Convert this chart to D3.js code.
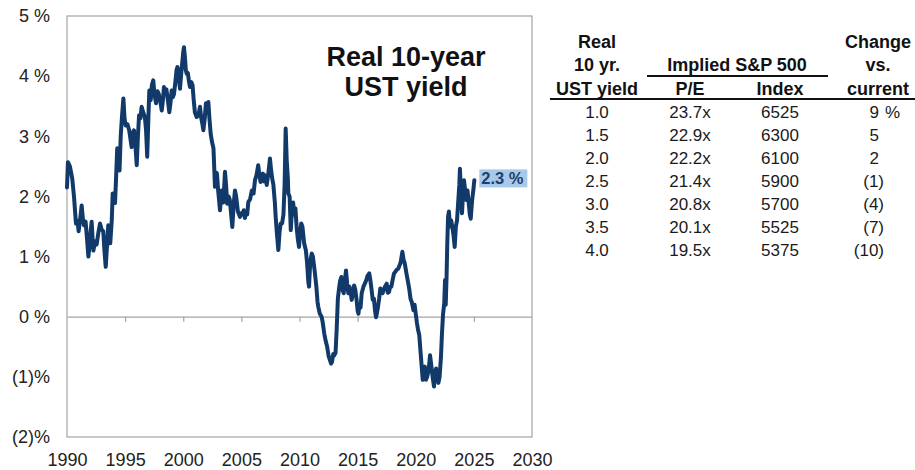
<!DOCTYPE html>
<html>
<head>
<meta charset="utf-8">
<script src="https://cdn.jsdelivr.net/npm/d3@7"></script>
<style>
  body { margin: 0; background: #fff; }
  svg { display: block; font-family: "Liberation Sans", Arial, sans-serif; }
</style>
</head>
<body>
<svg id="chart" width="915" height="470"></svg>
<script>
// real 10-year UST yield (decimal year, %)
const obsDates = [
  1990.0, 1990.08, 1990.25, 1990.45, 1990.6, 1990.77, 1990.9, 1991.0, 1991.12, 1991.26,
  1991.38, 1991.46, 1991.6, 1991.72, 1991.84, 1991.95, 1992.05, 1992.12, 1992.2, 1992.27,
  1992.4, 1992.55, 1992.7, 1992.84, 1992.98, 1993.12, 1993.22, 1993.33, 1993.45, 1993.55,
  1993.65, 1993.72, 1993.85, 1993.93, 1994.05, 1994.13, 1994.22, 1994.32, 1994.42, 1994.52,
  1994.62, 1994.72, 1994.85, 1994.95, 1995.05, 1995.2, 1995.35, 1995.5, 1995.56, 1995.66,
  1995.76, 1995.9, 1996.0, 1996.1, 1996.2, 1996.32, 1996.42, 1996.55, 1996.7, 1996.8,
  1996.9, 1997.0, 1997.08, 1997.2, 1997.3, 1997.42, 1997.52, 1997.66, 1997.78, 1997.9,
  1998.05, 1998.15, 1998.25, 1998.34, 1998.45, 1998.55, 1998.68, 1998.8, 1998.9, 1999.0,
  1999.1, 1999.2, 1999.32, 1999.42, 1999.5, 1999.6, 1999.72, 1999.85, 2000.0, 2000.06,
  2000.15, 2000.22, 2000.3, 2000.4, 2000.5, 2000.58, 2000.7, 2000.8, 2000.9, 2001.0,
  2001.15, 2001.3, 2001.44, 2001.55, 2001.65, 2001.73, 2001.85, 2001.95, 2002.05, 2002.16,
  2002.25, 2002.36, 2002.48, 2002.6, 2002.73, 2002.82, 2002.9, 2003.0, 2003.1, 2003.16,
  2003.3, 2003.45, 2003.59, 2003.68, 2003.78, 2003.9, 2004.0, 2004.1, 2004.22, 2004.35,
  2004.45, 2004.55, 2004.7, 2004.88, 2005.0, 2005.1, 2005.2, 2005.3, 2005.4, 2005.5,
  2005.6, 2005.75, 2005.9, 2006.05, 2006.17, 2006.3, 2006.45, 2006.55, 2006.65, 2006.75,
  2006.85, 2006.95, 2007.05, 2007.18, 2007.3, 2007.46, 2007.55, 2007.65, 2007.75, 2007.88,
  2007.95, 2008.05, 2008.18, 2008.28, 2008.38, 2008.5, 2008.62, 2008.72, 2008.81, 2008.9,
  2009.0, 2009.04, 2009.15, 2009.25, 2009.35, 2009.45, 2009.55, 2009.65, 2009.75, 2009.85,
  2009.96, 2010.05, 2010.15, 2010.25, 2010.4, 2010.55, 2010.65, 2010.75, 2010.82, 2010.92,
  2011.05, 2011.15, 2011.3, 2011.45, 2011.55, 2011.62, 2011.75, 2011.9, 2012.0, 2012.13,
  2012.25, 2012.38, 2012.5, 2012.62, 2012.72, 2012.8, 2012.9, 2013.0, 2013.1, 2013.2,
  2013.3, 2013.42, 2013.5, 2013.6, 2013.7, 2013.8, 2013.9, 2014.0, 2014.1, 2014.2,
  2014.3, 2014.4, 2014.49, 2014.6, 2014.7, 2014.8, 2014.9, 2015.0, 2015.07, 2015.15,
  2015.25, 2015.35, 2015.5, 2015.62, 2015.75, 2015.85, 2016.0, 2016.1, 2016.2, 2016.3,
  2016.4, 2016.5, 2016.58, 2016.65, 2016.75, 2016.85, 2016.95, 2017.05, 2017.15, 2017.25,
  2017.35, 2017.5, 2017.6, 2017.7, 2017.8, 2017.9, 2018.0, 2018.13, 2018.25, 2018.35,
  2018.5, 2018.6, 2018.7, 2018.85, 2018.95, 2019.05, 2019.2, 2019.36, 2019.45, 2019.55,
  2019.65, 2019.8, 2019.9, 2020.0, 2020.1, 2020.2, 2020.3, 2020.38, 2020.48, 2020.6,
  2020.68, 2020.78, 2020.88, 2020.98, 2021.1, 2021.23, 2021.33, 2021.45, 2021.57, 2021.65,
  2021.75, 2021.85, 2021.95, 2022.05, 2022.17, 2022.25, 2022.35, 2022.45, 2022.52, 2022.58,
  2022.65, 2022.71, 2022.78, 2022.85, 2022.95, 2023.05, 2023.15, 2023.25, 2023.35, 2023.45,
  2023.55, 2023.65, 2023.75, 2023.8, 2023.9, 2023.98, 2024.08, 2024.15, 2024.25, 2024.35,
  2024.45, 2024.55, 2024.65, 2024.73, 2024.85, 2024.95, 2025.04
];
const realYield = [
  2.15, 2.57, 2.5, 2.3, 2.0, 1.55, 1.6, 1.42, 1.6, 1.85,
  1.6, 1.52, 1.58, 1.3, 1.0, 1.2, 1.45, 1.58, 1.3, 1.1,
  1.25, 1.2, 1.4, 1.55, 1.45, 1.42, 1.1, 0.83, 1.2, 1.52,
  1.3, 1.22, 1.6, 2.05, 1.95, 1.89, 2.3, 2.8, 2.6, 2.43,
  3.0, 3.3, 3.63, 3.3, 3.18, 3.2, 3.1, 2.9, 2.82, 3.05,
  3.1, 2.8, 2.52, 3.0, 3.35, 3.3, 3.49, 3.4, 3.32, 3.1,
  2.66, 3.3, 3.76, 3.6, 3.85, 3.93, 3.7, 3.55, 3.75, 3.7,
  3.55, 3.43, 3.6, 3.82, 3.75, 3.78, 3.6, 3.4, 3.55, 3.76,
  3.65, 3.7, 3.9, 4.1, 4.15, 4.0, 3.79, 4.1, 4.4, 4.48,
  4.3, 4.1, 4.04, 4.05, 3.9, 3.82, 3.9, 3.85, 3.6, 3.4,
  3.32, 3.35, 3.49, 3.3, 3.2, 3.1, 3.3, 3.55, 3.4, 3.57,
  3.3, 3.04, 2.9, 2.8, 2.16, 2.4, 2.38, 2.1, 1.9, 1.77,
  2.1, 1.9, 2.41, 2.2, 1.88, 2.0, 1.95, 1.75, 1.49, 1.9,
  2.1, 2.0, 1.75, 1.66, 1.72, 1.7, 1.77, 1.64, 1.75, 1.7,
  1.91, 1.95, 2.1, 2.05, 2.27, 2.35, 2.52, 2.35, 2.24, 2.3,
  2.38, 2.25, 2.35, 2.19, 2.35, 2.63, 2.45, 2.3, 2.2, 1.9,
  1.66, 1.4, 1.11, 1.4, 1.55, 1.55, 1.7, 2.2, 3.13, 2.6,
  2.3, 2.05, 2.0, 1.44, 1.77, 1.9, 1.7, 1.8, 1.5, 1.3,
  1.16, 1.4, 1.55, 1.5, 1.22, 1.1, 0.9, 0.6, 0.5, 0.9,
  1.05, 1.0, 0.77, 0.5, 0.25, 0.16, 0.05, 0.0, -0.1, -0.28,
  -0.4, -0.5, -0.65, -0.72, -0.78, -0.75, -0.62, -0.64, -0.6, -0.2,
  0.3, 0.5, 0.6, 0.66, 0.45, 0.39, 0.6, 0.77, 0.55, 0.39,
  0.5, 0.4, 0.28, 0.4, 0.52, 0.45, 0.3, 0.1, 0.05, 0.2,
  0.15, 0.39, 0.5, 0.55, 0.61, 0.68, 0.72, 0.6, 0.45, 0.28,
  0.3, 0.1, -0.01, 0.05, 0.16, 0.3, 0.47, 0.45, 0.39, 0.45,
  0.5, 0.55, 0.4, 0.41, 0.5, 0.5, 0.6, 0.72, 0.75, 0.78,
  0.8, 0.85, 0.9, 1.08, 0.95, 0.89, 0.72, 0.55, 0.45, 0.3,
  0.25, 0.11, 0.2, 0.05, -0.1, -0.22, -0.3, -0.5, -0.75, -1.05,
  -0.95, -0.83, -1.05, -1.0, -0.9, -0.64, -0.8, -1.0, -1.16, -0.95,
  -0.86, -1.0, -1.1, -1.0, -0.67, -0.3, 0.05, 0.22, 0.61, 0.2,
  0.66, 1.2, 1.66, 1.75, 1.5, 1.6, 1.49, 1.35, 1.16, 1.5,
  1.6, 1.9, 2.2, 2.46, 2.0, 1.72, 2.1, 2.27, 2.1, 1.94,
  2.1, 1.9, 1.7, 1.63, 1.94, 2.1, 2.27
];
const currentLabel = "2.3 %";
const currentValue = 2.3;

// axis ticks
const yTicks = [5, 4, 3, 2, 1, 0, -1, -2];
const xTicks = [1990, 1995, 2000, 2005, 2010, 2015, 2020, 2025, 2030];

// valuation table on the right
const tableYield = ["1.0", "1.5", "2.0", "2.5", "3.0", "3.5", "4.0"];
const tablePE = ["23.7x", "22.9x", "22.2x", "21.4x", "20.8x", "20.1x", "19.5x"];
const tableIndex = ["6525", "6300", "6100", "5900", "5700", "5525", "5375"];
const tableChange = [9, 5, 2, -1, -4, -7, -10];

const navy = "#113a6b";
const frameGrey = "#a3a3a3";

const svg = d3.select("#chart");

// plot box
const plot = { left: 67, right: 532, top: 16, bottom: 437 };

const x = d3.scaleLinear().domain([1990, 2030]).range([plot.left, plot.right]);
const y = d3.scaleLinear().domain([-2, 5]).range([plot.bottom, plot.top]);

function pctFormat(v) {
  // negatives shown in brackets like the source
  return v < 0 ? "(" + (-v) + ")%" : v + " %";
}

// frame round the plot
svg.append("rect")
  .attr("x", plot.left)
  .attr("y", plot.top)
  .attr("width", plot.right - plot.left)
  .attr("height", plot.bottom - plot.top)
  .attr("fill", "none")
  .attr("stroke", frameGrey)
  .attr("stroke-width", 1.2);

// y axis labels only
const yAxis = svg.append("g")
  .attr("transform", "translate(" + plot.left + ",0)")
  .call(d3.axisLeft(y).tickValues(yTicks).tickSize(0).tickPadding(17).tickFormat(pctFormat));
yAxis.select(".domain").remove();
yAxis.selectAll("text").attr("font-size", 18).attr("fill", "#222").attr("font-family", "Liberation Sans, Arial, sans-serif");

// x axis labels along the bottom
const xAxis = svg.append("g")
  .attr("transform", "translate(0," + plot.bottom + ")")
  .call(d3.axisBottom(x).tickValues(xTicks).tickSize(0).tickPadding(16).tickFormat(d3.format("d")));
xAxis.select(".domain").remove();
xAxis.selectAll("text").attr("font-size", 18).attr("fill", "#222").attr("font-family", "Liberation Sans, Arial, sans-serif");

// zero line with the small ticks hanging under it
const zeroAxis = svg.append("g")
  .attr("transform", "translate(0," + y(0) + ")")
  .call(d3.axisBottom(x).tickValues(xTicks.slice(1, -1)).tickSize(5).tickSizeOuter(0).tickFormat(""));
zeroAxis.select(".domain").attr("stroke", frameGrey).attr("stroke-width", 1.2);
zeroAxis.selectAll(".tick line").attr("stroke", frameGrey).attr("stroke-width", 1.2);

// the yield line
const series = obsDates.map((d, i) => [d, realYield[i]]);
const line = d3.line().x(d => x(d[0])).y(d => y(d[1]));
svg.append("path")
  .datum(series)
  .attr("d", line)
  .attr("fill", "none")
  .attr("stroke", navy)
  .attr("stroke-width", 4)
  .attr("stroke-linejoin", "round")
  .attr("stroke-linecap", "round");

// current value tag
const lastDate = obsDates[obsDates.length - 1];
const tag = svg.append("g").attr("transform", "translate(" + (x(lastDate) + 5) + "," + y(currentValue) + ")");
tag.append("rect")
  .attr("x", 0).attr("y", -9)
  .attr("width", 48).attr("height", 18)
  .attr("fill", "#a9c9e8");
tag.append("text")
  .attr("x", 2).attr("y", 0).attr("dy", "0.35em")
  .attr("font-size", 16.5).attr("font-weight", "bold")
  .attr("fill", "#1d3f72")
  .text(currentLabel);

// chart title inside the box
const title = svg.append("text")
  .attr("x", 406).attr("y", 66)
  .attr("text-anchor", "middle")
  .attr("font-size", 27).attr("font-weight", "bold")
  .attr("fill", "#111");
title.append("tspan").attr("x", 406).text("Real 10-year");
title.append("tspan").attr("x", 406).attr("dy", 30).text("UST yield");

// ---- table ----
const col = { yield: 597, pe: 690, index: 780, change: 884 };
const rows = d3.scaleBand().domain(tableYield).range([100, 262]);
const headLines = d3.scaleBand().domain([0, 1, 2]).range([30, 100]);

function headerText(xpos, lines) {
  svg.append("g").selectAll("text")
    .data(lines)
    .join("text")
    .attr("x", xpos)
    .attr("y", (d, i) => headLines(i) + headLines.bandwidth() / 2)
    .attr("dy", "0.35em")
    .attr("text-anchor", "middle")
    .attr("font-size", 18).attr("font-weight", "bold")
    .attr("fill", "#111")
    .text(d => d);
}
headerText(col.yield, ["Real", "10 yr.", "UST yield"]);
headerText(col.change - 6, ["Change", "vs.", "current"]);
headerText((col.pe + col.index) / 2 + 2, ["", "Implied S&P 500", ""]);
headerText(col.pe, ["", "", "P/E"]);
headerText(col.index, ["", "", "Index"]);

// rules under the headers
svg.append("line")
  .attr("x1", 647).attr("x2", 828)
  .attr("y1", 76).attr("y2", 76)
  .attr("stroke", "#111").attr("stroke-width", 2);
svg.append("line")
  .attr("x1", 550).attr("x2", 915)
  .attr("y1", 99).attr("y2", 99)
  .attr("stroke", "#111").attr("stroke-width", 2);

function bodyColumn(values, xpos, anchor) {
  svg.append("g").selectAll("text")
    .data(values)
    .join("text")
    .attr("x", typeof xpos === "function" ? xpos : () => xpos)
    .attr("y", (d, i) => rows(tableYield[i]) + rows.bandwidth() / 2)
    .attr("dy", "0.35em")
    .attr("text-anchor", anchor)
    .attr("font-size", 17)
    .attr("fill", "#1a1a1a")
    .text(d => d);
}
bodyColumn(tableYield, col.yield, "middle");
bodyColumn(tablePE, col.pe, "middle");
bodyColumn(tableIndex, col.index, "middle");
// accounting style: brackets hang past the digits
bodyColumn(tableChange.map(v => v < 0 ? "(" + (-v) + ")" : String(v)),
  d => d.startsWith("(") ? col.change : col.change - 5, "end");
// percent sign only on the first row
svg.append("text")
  .attr("x", col.change + 1)
  .attr("y", rows(tableYield[0]) + rows.bandwidth() / 2)
  .attr("dy", "0.35em")
  .attr("font-size", 17)
  .attr("fill", "#1a1a1a")
  .text("%");
</script>
</body>
</html>
